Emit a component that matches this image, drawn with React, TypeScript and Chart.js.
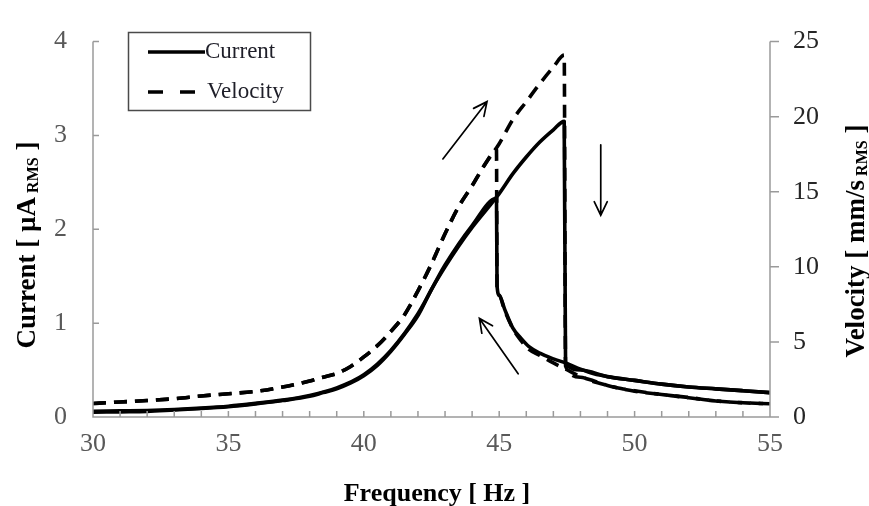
import React, { useEffect, useRef } from "react";
import { Chart, registerables } from "chart.js";

Chart.register(...registerables);

const FONT = '"Liberation Serif", "Times New Roman", serif';

// Frequency sweep up (Hz) and current (µA RMS)
const currentUpFreq = [30, 31, 32, 33, 34, 35, 36, 37, 38, 38.5, 39, 39.5, 40, 40.5, 41, 41.5, 42, 42.5, 43, 43.5, 44, 44.5, 45, 45.5, 46, 46.5, 47, 47.4, 47.45, 48, 49, 50, 51, 52, 53, 54, 55];
const currentUp = [0.05, 0.055, 0.06, 0.075, 0.09, 0.11, 0.14, 0.175, 0.22, 0.26, 0.3, 0.36, 0.44, 0.55, 0.7, 0.88, 1.08, 1.36, 1.6, 1.82, 2.02, 2.2, 2.38, 2.59, 2.77, 2.93, 3.06, 3.15, 0.58, 0.5, 0.43, 0.39, 0.35, 0.32, 0.3, 0.28, 0.26];

// Frequency sweep down (Hz) and current (µA RMS)
const currentDownFreq = [30, 31, 32, 33, 34, 35, 36, 37, 38, 39, 40, 41, 42, 43, 44, 44.9, 44.92, 45, 45.2, 45.5, 45.8, 46.1, 46.5, 47, 47.5, 48, 48.5, 49, 50, 51, 52, 53, 54, 55];
const currentDown = [0.06, 0.065, 0.07, 0.08, 0.095, 0.115, 0.145, 0.18, 0.23, 0.31, 0.45, 0.71, 1.1, 1.62, 2.04, 2.33, 1.4, 1.3, 1.15, 0.95, 0.84, 0.75, 0.68, 0.62, 0.57, 0.51, 0.46, 0.43, 0.39, 0.35, 0.32, 0.3, 0.28, 0.26];

// Frequency sweep up (Hz) and velocity (mm/s RMS)
const velocityUpFreq = [30, 31, 32, 33, 34, 35, 36, 37, 38, 38.5, 39, 39.5, 40, 40.5, 41, 41.5, 42, 42.5, 43, 43.5, 44, 44.5, 45, 45.5, 46, 46.5, 47, 47.4, 47.45, 48, 48.5, 49, 49.5, 50, 51, 52, 53, 54, 55];
const velocityUp = [0.9, 1.0, 1.1, 1.22, 1.4, 1.55, 1.7, 2.0, 2.4, 2.65, 2.9, 3.35, 4.0, 4.75, 5.7, 6.8, 8.4, 10.2, 12.2, 14.0, 15.4, 16.9, 18.2, 19.8, 21.0, 22.2, 23.3, 24.1, 3.4, 2.65, 2.35, 2.1, 1.9, 1.75, 1.5, 1.3, 1.07, 0.95, 0.88];

// Frequency sweep down (Hz) and velocity (mm/s RMS)
const velocityDownFreq = [30, 31, 32, 33, 34, 35, 36, 37, 38, 38.5, 39, 39.5, 40, 40.5, 41, 41.5, 42, 42.5, 43, 43.5, 44, 44.5, 44.9, 44.92, 45, 45.2, 45.5, 45.8, 46.1, 46.5, 47, 47.5, 48, 48.5, 49, 50, 51, 52, 53, 54, 55];
const velocityDown = [0.9, 1.0, 1.1, 1.22, 1.4, 1.55, 1.7, 2.0, 2.4, 2.65, 2.9, 3.35, 4.0, 4.75, 5.7, 6.8, 8.4, 10.2, 12.2, 14.0, 15.4, 16.9, 17.8, 8.7, 8.1, 7.1, 5.9, 5.1, 4.5, 4.1, 3.6, 3.15, 2.7, 2.4, 2.1, 1.72, 1.5, 1.28, 1.07, 0.95, 0.88];

// Tick values
const xTicks = [30, 35, 40, 45, 50, 55];
const currentTicks = [0, 1, 2, 3, 4];
const velocityTicks = [0, 5, 10, 15, 20, 25];

// Sweep-direction arrows in (Hz, µA) coordinates: [fromX, fromY, toX, toY]
const arrows = [
  [42.92, 2.75, 44.55, 3.36],
  [48.75, 2.9, 48.75, 2.15],
  [45.7, 0.46, 44.27, 1.05],
];

const legendLabels = ["Current", "Velocity"];

export default function App() {
  const ref = useRef<HTMLCanvasElement | null>(null);

  useEffect(() => {
    const canvas = ref.current;
    if (!canvas) return;
    const toXY = (xs: number[], ys: number[]) => xs.map((x, i) => ({ x, y: ys[i] }));

    const lineBase = {
      borderColor: "#000",
      borderWidth: 3.6,
      pointRadius: 0,
      tension: 0,
      cubicInterpolationMode: "monotone" as const,
      fill: false,
      borderCapStyle: "butt" as const,
      borderJoinStyle: "round" as const,
    };

    const decor = {
      id: "decor",
      afterDraw(chart: any) {
        const ctx = chart.ctx as CanvasRenderingContext2D;
        const { left, right, top, bottom } = chart.chartArea;
        const xs = chart.scales.x;
        const ys = chart.scales.y;
        const y1 = chart.scales.y1;
        ctx.save();
        // axes
        ctx.strokeStyle = "#9a9a9a";
        ctx.lineWidth = 1.5;
        ctx.beginPath();
        ctx.moveTo(left, top);
        ctx.lineTo(left, bottom);
        ctx.lineTo(right, bottom);
        ctx.moveTo(right, top);
        ctx.lineTo(right, bottom);
        // left ticks (inward)
        for (const v of currentTicks) {
          const p = ys.getPixelForValue(v);
          ctx.moveTo(left, p);
          ctx.lineTo(left + 6, p);
        }
        // right ticks (outward)
        for (const v of velocityTicks) {
          const p = y1.getPixelForValue(v);
          ctx.moveTo(right, p);
          ctx.lineTo(right + 9, p);
        }
        // x minor ticks every 1 Hz (inward)
        for (let f = xs.min; f <= xs.max; f += 1) {
          const p = xs.getPixelForValue(f);
          ctx.moveTo(p, bottom);
          ctx.lineTo(p, bottom - 6);
        }
        ctx.stroke();

        // arrows
        ctx.strokeStyle = "#000";
        ctx.lineWidth = 1.7;
        ctx.lineCap = "round";
        for (const a of arrows) {
          const x0 = xs.getPixelForValue(a[0]);
          const y0 = ys.getPixelForValue(a[1]);
          const x1 = xs.getPixelForValue(a[2]);
          const y1p = ys.getPixelForValue(a[3]);
          const ang = Math.atan2(y1p - y0, x1 - x0);
          const hl = 15;
          const spread = 0.45;
          ctx.beginPath();
          ctx.moveTo(x0, y0);
          ctx.lineTo(x1, y1p);
          ctx.moveTo(x1 - hl * Math.cos(ang - spread), y1p - hl * Math.sin(ang - spread));
          ctx.lineTo(x1, y1p);
          ctx.lineTo(x1 - hl * Math.cos(ang + spread), y1p - hl * Math.sin(ang + spread));
          ctx.stroke();
        }

        // legend
        ctx.lineCap = "butt";
        ctx.strokeStyle = "#4a4a4a";
        ctx.lineWidth = 1.5;
        ctx.strokeRect(128.5, 32.5, 182, 78);
        ctx.strokeStyle = "#000";
        ctx.lineWidth = 3.6;
        ctx.beginPath();
        ctx.moveTo(148, 52);
        ctx.lineTo(205, 52);
        ctx.stroke();
        ctx.setLineDash([15, 17]);
        ctx.beginPath();
        ctx.moveTo(148, 92);
        ctx.lineTo(198, 92);
        ctx.stroke();
        ctx.setLineDash([]);
        ctx.fillStyle = "#1e1e28";
        ctx.font = `23px ${FONT}`;
        ctx.textBaseline = "middle";
        ctx.textAlign = "left";
        ctx.fillText(legendLabels[0], 205, 52);
        ctx.fillText(legendLabels[1], 207, 92);

        // axis titles
        const drawTitle = (parts: [string, number, number][], cx: number, cy: number, rot: number) => {
          ctx.save();
          ctx.translate(cx, cy);
          ctx.rotate(rot);
          ctx.textAlign = "left";
          ctx.textBaseline = "alphabetic";
          ctx.fillStyle = "#000";
          let total = 0;
          for (const [t, s] of parts) {
            ctx.font = `bold ${s}px ${FONT}`;
            total += ctx.measureText(t).width;
          }
          let x = -total / 2;
          for (const [t, s, dy] of parts) {
            ctx.font = `bold ${s}px ${FONT}`;
            ctx.fillText(t, x, 9 + dy);
            x += ctx.measureText(t).width;
          }
          ctx.restore();
        };
        drawTitle([["Current [ µA", 27, 0], [" RMS", 16, 3], [" ]", 27, 0]], 26, 245, -Math.PI / 2);
        drawTitle([["Velocity [ mm/s", 27, 0], [" RMS", 16, 3], [" ]", 27, 0]], 855, 241, -Math.PI / 2);
        drawTitle([["Frequency [ Hz ]", 26, 0]], 437, 492, 0);
        ctx.restore();
      },
    };

    const chart = new Chart(canvas, {
      type: "line",
      data: {
        datasets: [
          { ...lineBase, label: "Velocity (up)", data: toXY(velocityUpFreq, velocityUp), yAxisID: "y1", borderDash: [13, 8] },
          { ...lineBase, label: "Velocity (down)", data: toXY(velocityDownFreq, velocityDown), yAxisID: "y1", borderDash: [13, 8] },
          { ...lineBase, label: "Current (up)", data: toXY(currentUpFreq, currentUp), yAxisID: "y" },
          { ...lineBase, label: "Current (down)", data: toXY(currentDownFreq, currentDown), yAxisID: "y" },
        ],
      },
      options: {
        responsive: false,
        animation: false,
        layout: { padding: { top: 21, left: 0, right: 0, bottom: 0 } },
        plugins: { legend: { display: false }, tooltip: { enabled: false } },
        scales: {
          x: {
            type: "linear",
            position: "bottom",
            min: 30,
            max: 55,
            grid: { display: false, drawTicks: false },
            border: { display: false },
            afterBuildTicks: (s: any) => {
              s.ticks = xTicks.map((v) => ({ value: v }));
            },
            ticks: { font: { family: FONT, size: 26 }, color: "#595959", padding: 12, maxRotation: 0, autoSkip: false },
            afterFit: (s: any) => {
              s.height = 89;
            },
          },
          y: {
            type: "linear",
            position: "left",
            min: 0,
            max: 4,
            grid: { display: false, drawTicks: false },
            border: { display: false },
            afterBuildTicks: (s: any) => {
              s.ticks = currentTicks.map((v) => ({ value: v }));
            },
            ticks: { font: { family: FONT, size: 26 }, color: "#595959", padding: 26 },
            afterFit: (s: any) => {
              s.width = 93;
            },
          },
          y1: {
            type: "linear",
            position: "right",
            min: 0,
            max: 25,
            grid: { display: false, drawTicks: false },
            border: { display: false },
            afterBuildTicks: (s: any) => {
              s.ticks = velocityTicks.map((v) => ({ value: v }));
            },
            ticks: { font: { family: FONT, size: 26 }, color: "#262626", padding: 23 },
            afterFit: (s: any) => {
              s.width = 99;
            },
          },
        },
      },
      plugins: [decor],
    });
    return () => chart.destroy();
  }, []);

  return (
    <div style={{ position: "fixed", left: 0, top: 0, width: 869, height: 506, background: "#fff" }}>
      <canvas ref={ref} width={869} height={506} style={{ display: "block" }} />
    </div>
  );
}
